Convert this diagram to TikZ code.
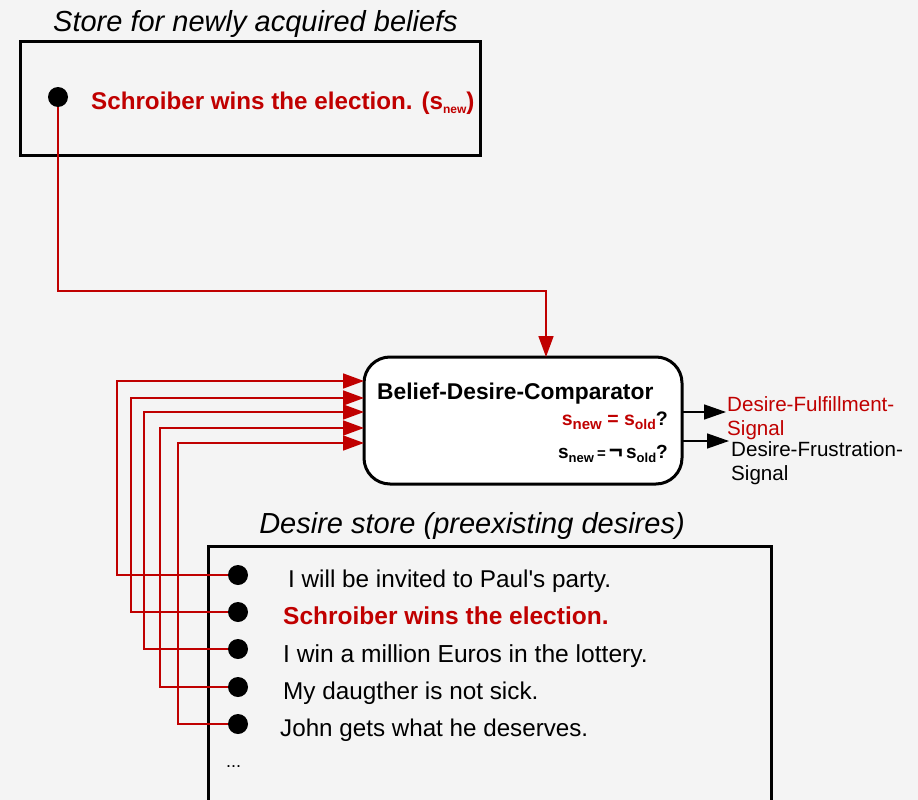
\documentclass[tikz,border=0pt]{standalone}
\usepackage{fontspec}
\setmainfont{Liberation Sans}
\usetikzlibrary{arrows.meta}
\definecolor{bg}{HTML}{F4F4F4}
\definecolor{sigred}{HTML}{C00000}
% font size given in picture units (1 unit = 1pt)
\newcommand{\pxsize}[1]{\fontsize{#1}{#1}\selectfont}
% lowered small index, as in s_new
\newcommand{\lowsub}[2]{\raisebox{-4pt}{\pxsize{#1}#2}}
\begin{document}
\begin{tikzpicture}[x=1pt,y=-1pt,
  box/.style={draw, line width=3pt, inner sep=0pt, outer sep=0pt},
  bullet/.style={circle, fill=black, inner sep=0pt, outer sep=0pt, minimum size=20pt},
  label/.style={anchor=base west, inner sep=0pt},
  feed/.style={draw=sigred, line width=1.6pt, -{Triangle[length=21pt,width=15pt]}},
  outarrow/.style={draw=black, line width=1.5pt, -{Triangle[length=22pt,width=15pt]}}]

% page and background
\useasboundingbox (0,0) rectangle (918,800);
\fill[bg] (0,0) rectangle (918,800);

% store for new beliefs
\node[label] (newtitle) at (53,32) {\pxsize{29}\itshape Store for newly acquired beliefs};
\node[box, fill=bg, minimum width=460pt, minimum height=113pt, anchor=north west] (newstore) at (20,42) {};
\node[bullet] (bdot) at (58,97) {};
\node[label, text=sigred] (belief) at (91,109) {\pxsize{24.2}\bfseries Schroiber wins the election. (s\lowsub{12}{new})};

% comparator
\node[box, fill=white, rounded corners=26pt, minimum width=318pt, minimum height=127pt, anchor=north west] (comp) at (364,357) {};
\node[label] (comptitle) at (377,399) {\pxsize{22.8}\bfseries Belief-Desire-Comparator};
\node[anchor=base east, inner sep=0pt] (eqtest) at (668,425)
  {\pxsize{19.5}\bfseries{\color{sigred}s\lowsub{15}{new} = s\lowsub{14}{old}}?};
\node[anchor=base east, inner sep=0pt] (negtest) at (668,458)
  {\pxsize{19}\bfseries s\lowsub{13}{new}\,{\pxsize{15}=}\,{\pxsize{24}¬}\,s\lowsub{13}{old}?};

% output signals
\coordinate (o1) at (726,412);
\coordinate (o2) at (729,441);
\draw[outarrow] (comp.east |- o1) -- (o1);
\draw[outarrow] (comp.east |- o2) -- (o2);
\node[label, text=sigred] (ful1) at (727,411) {\pxsize{20.6}Desire-Fulfillment-};
\node[label, text=sigred] (ful2) at (727,435) {\pxsize{20.6}Signal};
\node[label] (fru1) at (731,456) {\pxsize{20.6}Desire-Frustration-};
\node[label] (fru2) at (731,480) {\pxsize{20.6}Signal};

% desire store
\node[anchor=base, inner sep=0pt] (destitle) at (472,533) {\pxsize{29}\itshape Desire store (preexisting desires)};
\node[box, minimum width=563pt, minimum height=300pt, anchor=north west] (desires) at (208,546) {};
\node[bullet] (d1) at (238,575) {};
\node[bullet] (d2) at (238,612) {};
\node[bullet] (d3) at (238,649) {};
\node[bullet] (d4) at (238,687) {};
\node[bullet] (d5) at (238,724) {};
\node[label] (t1) at (288,587) {\pxsize{24.3}I will be invited to Paul\textquotesingle s party.};
\node[label, text=sigred] (t2) at (283,624) {\pxsize{24.5}\bfseries Schroiber wins the election.};
\node[label] (t3) at (283,662) {\pxsize{24.6}I win a million Euros in the lottery.};
\node[label] (t4) at (283,699) {\pxsize{24.3}My daugther is not sick.};
\node[label] (t5) at (280,736) {\pxsize{24.2}John gets what he deserves.};
\node[label] (more) at (226,767) {\pxsize{18}...};

% new belief into comparator
\coordinate (k0) at (546,291);
\draw[feed] (bdot.south) |- (k0) -- (k0 |- comp.north);

% each desire into comparator
\coordinate (v1) at (117,381);
\coordinate (v2) at (131,398);
\coordinate (v3) at (144,412);
\coordinate (v4) at (160,428);
\coordinate (v5) at (178,443);
\draw[feed] (d1.west) -| (v1) -- (v1 -| comp.west);
\draw[feed] (d2.west) -| (v2) -- (v2 -| comp.west);
\draw[feed] (d3.west) -| (v3) -- (v3 -| comp.west);
\draw[feed] (d4.west) -| (v4) -- (v4 -| comp.west);
\draw[feed] (d5.west) -| (v5) -- (v5 -| comp.west);
\end{tikzpicture}
\end{document}
